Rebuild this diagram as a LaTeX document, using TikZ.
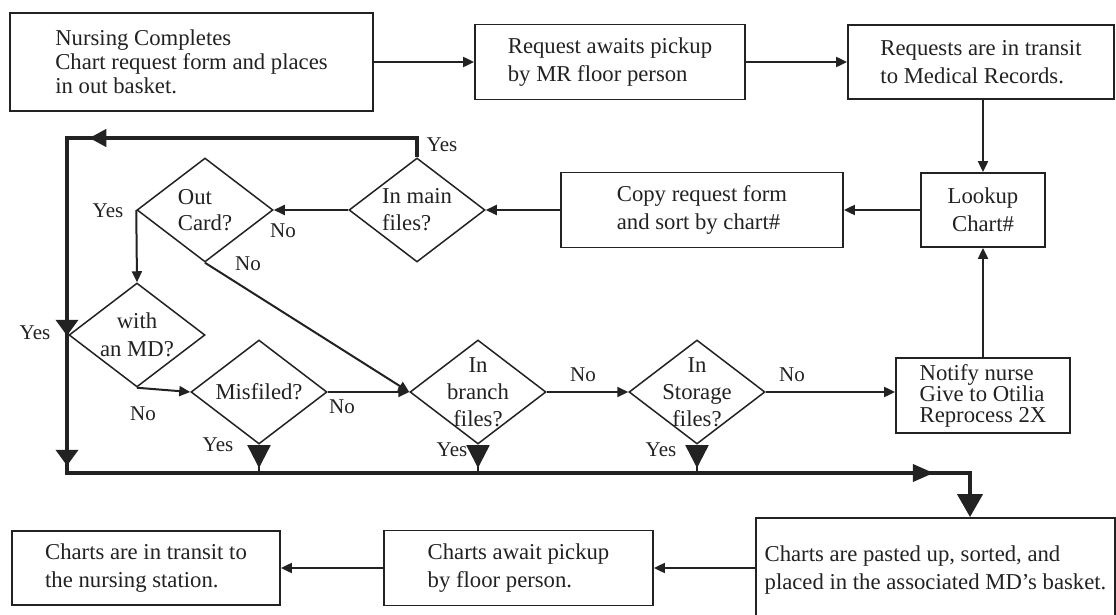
\documentclass[tikz,border=0pt]{standalone}
\usepackage{fontspec}
\setmainfont{Liberation Serif}
\usetikzlibrary{arrows.meta,shapes.geometric,decorations.markings}
\definecolor{ink}{RGB}{34,34,34}
\begin{document}
\begin{tikzpicture}[x=1pt,y=-1pt,
  txt/.style={font=\fontsize{22.7}{28}\selectfont, text=ink, align=left},
  lbl/.style={font=\fontsize{21}{24}\selectfont, text=ink, inner sep=0pt},
  box/.style={draw=ink, line width=1.8pt, rectangle, inner sep=0pt, txt},
  dia/.style={draw=ink, line width=1.5pt, diamond, inner sep=0pt,
              minimum width=136pt, minimum height=104pt},
  arr/.style={draw=ink, line width=2pt, -{Triangle[length=11pt,width=10pt]}},
  heavy/.style={draw=ink, line width=4pt},
  drop/.style={draw=ink, line width=2.5pt, postaction={decorate},
    decoration={markings,
      mark=at position -5pt with {\arrow{Triangle[length=23pt,width=23pt]}}}}
]
% canvas
\fill[white] (0,0) rectangle (1116,615);
\useasboundingbox (0,0) rectangle (1116,615);

% process boxes
\node[box, minimum width=363pt, minimum height=98pt,
      font=\fontsize{22.7}{24}\selectfont] (b1) at (191.5,62)
  {Nursing Completes\\Chart request form and places\\in out basket.};
\node[box, minimum width=270pt, minimum height=75pt] (b2) at (610,62)
  {Request awaits pickup\\by MR floor person};
\node[box, minimum width=266pt, minimum height=74pt] (b3) at (981,62)
  {Requests are in transit\\to Medical Records.};
\node[box, minimum width=124pt, minimum height=74pt, align=center] (look) at (983,210)
  {Lookup\\Chart\#};
\node[box, minimum width=282pt, minimum height=75pt] (copy) at (702,210)
  {Copy request form\\and sort by chart\#};
\node[box, minimum width=174pt, minimum height=75pt,
      font=\fontsize{22.7}{20.5}\selectfont] (notify) at (983,395.5)
  {Notify nurse\\Give to Otilia\\Reprocess 2X};
\node[box, minimum width=359pt, minimum height=104pt] (paste) at (935.5,570)
  {Charts are pasted up, sorted, and\\placed in the associated MD's basket.};
\node[box, minimum width=269pt, minimum height=75pt] (await) at (518.5,568)
  {Charts await pickup\\by floor person.};
\node[box, minimum width=268pt, minimum height=74pt] (trans) at (146,568)
  {Charts are in transit to\\the nursing station.};

% decisions
\node[dia] (mf)  at (417,210) {};
\node[dia] (oc)  at (205,210) {};
\node[dia] (md)  at (137,335) {};
\node[dia] (mis) at (259,392) {};
\node[dia] (br)  at (478,392) {};
\node[dia] (st)  at (697,392) {};
\node[txt, font=\fontsize{22.7}{27}\selectfont] (mf-t) at (mf) {In main\\files?};
\node[txt, font=\fontsize{22.7}{26}\selectfont] (oc-t) at (oc) {Out\\Card?};
\node[txt, align=center] (md-t) at (md) {with\\an MD?};
\node[txt] (mis-t) at (mis) {Misfiled?};
\node[txt, align=center, font=\fontsize{22.7}{27}\selectfont] (br-t) at (br) {In\\branch\\files?};
\node[txt, align=center, font=\fontsize{22.7}{27}\selectfont] (st-t) at (st) {In\\Storage\\files?};

% request flow
\draw[arr] (b1.east) -- (b2.west |- b1.east);
\draw[arr] (b2.east) -- (b3.west |- b2.east);
\draw[arr] (b3.south -| look.north) -- (look.north);
\draw[arr] (look.west) -- (copy.east |- look.west);
\draw[arr] (copy.west) -- (mf.east);
\draw[arr] (mf.west) -- (oc.east);
\draw[arr] (oc.west) -- (md.north);
\draw[arr] (oc.south) -- (br.west);
\draw[arr] (md.south) -- (mis.west);
\draw[arr] (mis.east) -- (br.west);
\draw[arr] (br.east) -- (st.west);
\draw[arr] (st.east) -- (st.east -| notify.west);
\draw[arr] (notify.north) -- (look.south);

% chart return path
\coordinate (tl) at (67,138);
\coordinate (bl) at (67,473);
\coordinate (bc) at (970,473);
\draw[heavy, postaction={decorate},
  decoration={markings,
    mark=at position 347pt with {\arrow{Triangle[length=17pt,width=17pt]}},
    mark=at position 567pt with {\arrow{Triangle[length=16pt,width=22pt]}},
    mark=at position 697pt with {\arrow{Triangle[length=16pt,width=22pt]}},
    mark=at position 1571pt with {\arrow{Triangle[length=21pt,width=17pt]}}},
  -{Triangle[length=23pt,width=25pt]}]
  (mf.north) -- (mf.north |- tl) -- (tl) -- (bl) -- (bc) -- (bc |- paste.north);
\draw[drop] (mis.south) -- (mis.south |- bl);
\draw[drop] (br.south) -- (br.south |- bl);
\draw[drop] (st.south) -- (st.south |- bl);

% delivery
\draw[arr] (paste.west |- await.east) -- (await.east);
\draw[arr] (await.west) -- (trans.east |- await.west);

% branch labels
\node[lbl] (l1)  at (442,145) {Yes};
\node[lbl] (l2)  at (108,211) {Yes};
\node[lbl] (l3)  at (283,231) {No};
\node[lbl] (l4)  at (248,264) {No};
\node[lbl] (l5)  at (35,333)  {Yes};
\node[lbl] (l6)  at (143,414) {No};
\node[lbl] (l7)  at (342,407) {No};
\node[lbl] (l8)  at (218,445) {Yes};
\node[lbl] (l9)  at (452,450) {Yes};
\node[lbl] (l10) at (583,375) {No};
\node[lbl] (l11) at (792,375) {No};
\node[lbl] (l12) at (661,450) {Yes};
\end{tikzpicture}
\end{document}
